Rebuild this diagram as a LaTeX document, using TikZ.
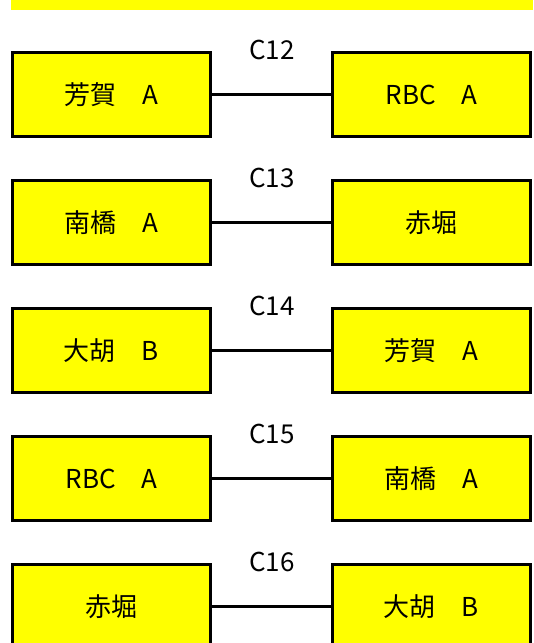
\documentclass[tikz,border=0pt]{standalone}
\usepackage{fontspec}
\setmainfont{Noto Sans CJK JP}
\definecolor{boxyel}{RGB}{255,255,0}
\begin{document}
\begin{tikzpicture}[x=1pt,y=-1pt,
  team/.style={draw=black, line width=3pt, fill=boxyel, minimum width=198pt, minimum height=84pt, inner sep=0pt, font=\fontsize{26}{30}\selectfont},
  link/.style={line width=2.5pt},
  lab/.style={inner sep=0pt, font=\fontsize{26}{30}\selectfont}]
\useasboundingbox (0,0) rectangle (534,643);
\clip (0,0) rectangle (534,643);
\fill[boxyel] (11,-5) rectangle (533,9.5);
\foreach \i/\l/\r/\c in {0/芳賀　A/RBC　A/C12, 1/南橋　A/赤堀/C13, 2/大胡　B/芳賀　A/C14, 3/RBC　A/南橋　A/C15, 4/赤堀/大胡　B/C16}{
  \node[team] (L\i) at (111.5, 94.5+128*\i) {\l};
  \node[team] (R\i) at (431.5, 94.5+128*\i) {\r};
  \draw[link] (L\i) -- (R\i);
  \node[lab] (C\i) at (272, 49.5+128*\i) {\c};
}
\end{tikzpicture}
\end{document}
